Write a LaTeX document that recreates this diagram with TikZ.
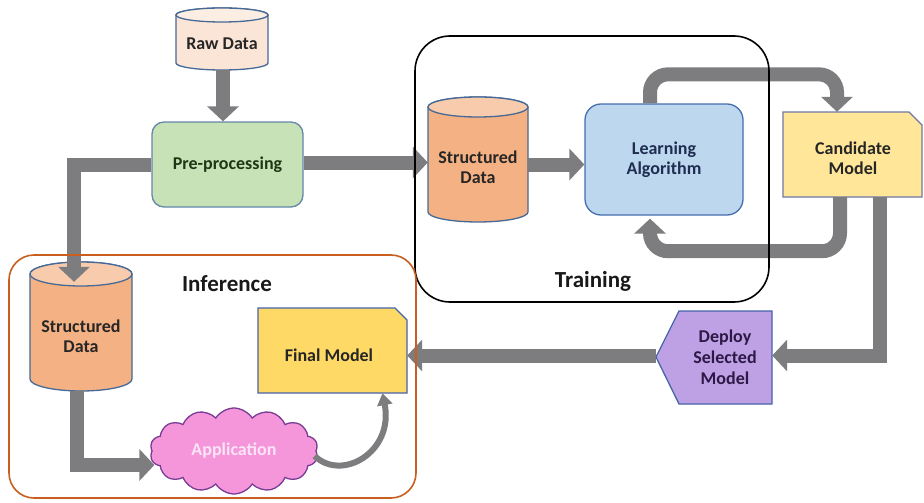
\documentclass[tikz,border=0pt]{standalone}
\usepackage{fontspec}
\setmainfont{Carlito}
\usetikzlibrary{arrows.meta,shapes.symbols,shapes.geometric}
\definecolor{arrowgray}{RGB}{125,125,128}
\definecolor{cylborder}{RGB}{70,105,150}
\definecolor{rawfill}{RGB}{251,229,214}
\definecolor{rawtop}{RGB}{253,238,228}
\definecolor{sdfill}{RGB}{244,177,131}
\definecolor{sdtop}{RGB}{248,203,173}
\definecolor{pregreen}{RGB}{200,226,184}
\definecolor{preborder}{RGB}{100,135,170}
\definecolor{pretext}{RGB}{30,55,20}
\definecolor{lafill}{RGB}{189,215,238}
\definecolor{laborder}{RGB}{70,110,175}
\definecolor{latext}{RGB}{30,45,80}
\definecolor{candfill}{RGB}{255,230,153}
\definecolor{candborder}{RGB}{110,120,165}
\definecolor{finalfill}{RGB}{255,217,102}
\definecolor{finalborder}{RGB}{70,100,170}
\definecolor{deployfill}{RGB}{190,160,228}
\definecolor{deploytext}{RGB}{45,25,70}
\definecolor{cloudfill}{RGB}{245,150,218}
\definecolor{cloudborder}{RGB}{120,60,150}
\definecolor{cloudtext}{RGB}{250,228,245}
\definecolor{inferline}{RGB}{200,95,30}
\newcommand\mycyl[7]{%
  \pgfmathsetmacro\cylcx{(#1+#3)/2}%
  \pgfmathsetmacro\cylrx{(#3-#1)/2}%
  \filldraw[cylline, fill=#6] (#1,#2+#5) -- (#1,#4-#5)
    arc[start angle=180, end angle=360, x radius=\cylrx pt, y radius=#5 pt]
    -- (#3,#2+#5)
    arc[start angle=0, end angle=180, x radius=\cylrx pt, y radius=#5 pt] -- cycle;
  \filldraw[cylline, fill=#7] (\cylcx,#2+#5) ellipse[x radius=\cylrx pt, y radius=#5 pt];
}
\begin{document}
\begin{tikzpicture}[x=1pt,y=-1pt,
  lbl/.style={font=\fontsize{18}{20}\selectfont\bfseries, align=center, inner sep=0pt},
  title/.style={font=\fontsize{23}{25}\selectfont\bfseries, inner sep=0pt, text=black!90},
  frame/.style={inner sep=0pt, draw=none},
  cylline/.style={draw=cylborder, line width=1.3pt},
  flow/.style={draw=arrowgray, line width=14pt, -{Triangle[width=31pt,length=15pt]}},
  thinflow/.style={draw=arrowgray, line width=6pt, -{Triangle[width=15pt,length=12pt]}},
]
\fill[white] (0,0) rectangle (924,503);
\useasboundingbox (0,0) rectangle (924,503);

% ---------- cylinders ----------
\mycyl{176}{8}{268}{70}{7}{rawfill}{rawtop}
\node[frame, minimum width=92pt, minimum height=62pt] (raw) at (222,39) {};
\node[lbl, text=black!85] (rawtxt) at (222,44) {Raw Data};

\mycyl{428}{97}{528}{222}{10}{sdfill}{sdtop}
\node[frame, minimum width=100pt, minimum height=125pt] (sdt) at (478,159.5) {};
\node[lbl, text=black!85] (sdttxt) at (478,167) {Structured\\Data};

\mycyl{30}{262}{132}{391}{12}{sdfill}{sdtop}
\node[frame, minimum width=102pt, minimum height=129pt] (sdi) at (81,326.5) {};
\node[lbl, text=black!85] (sditxt) at (81,336) {Structured\\Data};

% ---------- boxes ----------
\node[lbl, draw=preborder, line width=1.3pt, fill=pregreen, rounded corners=12pt,
      minimum width=151pt, minimum height=85pt, text=pretext] (pre) at (227.5,164.5) {Pre-processing};

\node[lbl, draw=laborder, line width=1.3pt, fill=lafill, rounded corners=16pt,
      minimum width=158pt, minimum height=111pt, text=latext] (la) at (664,159.5) {Learning\\Algorithm};

\filldraw[draw=candborder, line width=1.3pt, fill=candfill]
  (783,112) -- (909,112) -- (922,125) -- (922,197) -- (783,197) -- cycle;
\node[frame, minimum width=139pt, minimum height=85pt] (cand) at (852.5,154.5) {};
\node[lbl, text=black!85] (candtxt) at (853,158) {Candidate\\Model};

\filldraw[draw=finalborder, line width=1.3pt, fill=finalfill]
  (258,308) -- (395,308) -- (407,320) -- (407,393) -- (258,393) -- cycle;
\node[frame, minimum width=149pt, minimum height=85pt] (final) at (332.5,350.5) {};
\node[lbl, text=black!85] (finaltxt) at (329,355) {Final Model};

\filldraw[draw=finalborder, line width=1.3pt, fill=deployfill]
  (772,311) -- (679,311) -- (656,357) -- (679,404) -- (772,404) -- cycle;
\node[frame, minimum width=116pt, minimum height=93pt] (deploy) at (714,357.5) {};
\node[lbl, text=deploytext, font=\fontsize{18}{21}\selectfont\bfseries] (deploytxt) at (725,357) {Deploy\\Selected\\Model};

\node[cloud, cloud puffs=14, cloud puff arc=115, aspect=1.9, draw=cloudborder, line width=1.3pt,
      fill=cloudfill, minimum width=168pt, minimum height=86pt, inner sep=0pt,
      lbl, text=cloudtext] (app) at (234,451) {Application};

% ---------- connectors ----------
\draw[flow] ([xshift=1pt]raw.south) -- ([xshift=1pt]raw.south |- pre.north);
\draw[flow] ([yshift=2pt]pre.east) -- ([yshift=2pt]pre.east -| sdt.west);
\draw[flow] ([yshift=-5pt]sdt.east) -- ([yshift=-5pt]sdt.east -| la.west);
\draw[flow] (pre.west) -| ([xshift=-7pt,yshift=-20pt]sdi.north);
\draw[flow] ([xshift=-4pt]sdi.south) |- ([xshift=3pt,yshift=-14pt]app.west);
\draw[flow, rounded corners=18pt] ([xshift=-14pt]la.north) -- ++(0,-29) -| ([xshift=-15.5pt]cand.north);
\draw[flow, rounded corners=18pt] ([xshift=-12.5pt]cand.south) -- ++(0,54) -| ([xshift=-14pt,yshift=-3pt]la.south);
\draw[flow] ([xshift=27.5pt]cand.south) |- ([yshift=2pt]deploy.east);
\draw[flow] ([yshift=2pt]deploy.west) -- ([yshift=2pt]deploy.west -| final.east);
\draw[thinflow] ([xshift=-2pt,yshift=-5pt]app.east) .. controls (342,482) and (394,452) .. ([xshift=50pt]final.south);

% ---------- group frames ----------
\node[draw=black, line width=1.6pt, rounded corners=35pt, minimum width=354pt, minimum height=266pt, inner sep=0pt] (training) at (592,169) {};
\node[title] (trainingtxt) at (593,281) {Training};
\node[draw=inferline, line width=1.6pt, rounded corners=25pt, minimum width=407pt, minimum height=243pt, inner sep=0pt] (inference) at (212.5,376.5) {};
\node[title] (inferencetxt) at (227,284) {Inference};
\end{tikzpicture}
\end{document}
